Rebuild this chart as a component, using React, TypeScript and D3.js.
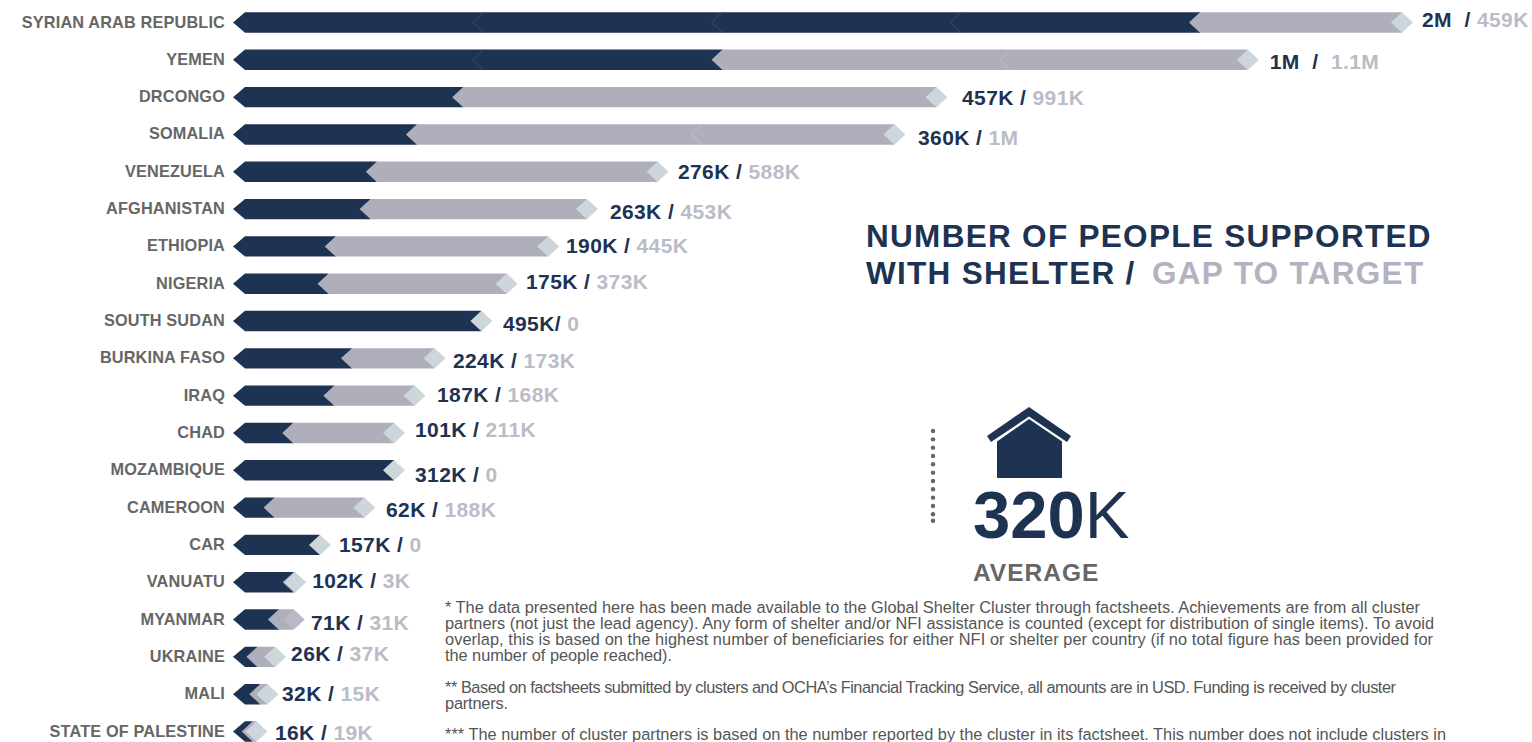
import React from "react";
import * as d3 from "d3";

const countries = ["SYRIAN ARAB REPUBLIC","YEMEN","DRCONGO","SOMALIA","VENEZUELA","AFGHANISTAN","ETHIOPIA","NIGERIA","SOUTH SUDAN","BURKINA FASO","IRAQ","CHAD","MOZAMBIQUE","CAMEROON","CAR","VANUATU","MYANMAR","UKRAINE","MALI","STATE OF PALESTINE"];
const supported = [2000,1000,457,360,276,263,190,175,495,224,187,101,312,62,157,102,71,26,32,16];
const gapDrawn = [423,1100,991,1000,588,453,445,373,0,173,168,211,0,188,0,3,31,37,15,8];
const supportedLabels = ["2M","1M","457K","360K","276K","263K","190K","175K","495K","224K","187K","101K","312K","62K","157K","102K","71K","26K","32K","16K"];
const gapLabels = ["459K","1.1M","991K","1M","588K","453K","445K","373K","0","173K","168K","211K","0","188K","0","3K","31K","37K","15K","19K"];
const separators = ["  / ","  /  "," / "," / "," / "," / "," / "," / ","/ "," / "," / "," / "," / "," / "," / "," / "," / "," / "," / "," / "];
const segmentMarks: number[][] = [[500,1000,1500],[500,1603],[],[957],[],[],[],[],[],[],[],[],[],[],[],[],[],[],[],[]];

const labelDx = [9,11,14.6,12.6,9.4,12,6.8,8.3,10.6,7.4,11.5,10,10,10.6,8,6,6.3,5,3.6,7.5];
const labelDy = [-2.5,2.5,0.5,3.5,0.5,2.5,-0.5,-1.5,2.5,2.5,-0.5,-2.5,4.5,2.5,0,-1.5,3.5,-2.5,0,1];

const footnotes: [string, number, number][] = [
  ["* The data presented here has been made available to the Global Shelter Cluster through factsheets. Achievements are from all cluster", 612.5, 975],
  ["partners (not just the lead agency). Any form of shelter and/or NFI assistance is counted (except for distribution of single items). To avoid", 628.5, 989],
  ["overlap, this is based on the highest number of beneficiaries for either NFI or shelter per country (if no total figure has been provided for", 645, 988],
  ["the number of people reached).", 661, 227],
  ["** Based on factsheets submitted by clusters and OCHA’s Financial Tracking Service, all amounts are in USD. Funding is received by cluster", 693, 951],
  ["partners.", 709, 63],
  ["*** The number of cluster partners is based on the number reported by the cluster in its factsheet. This number does not include clusters in", 740, 1001],
];

const NAVY = "#1e3252";
const GREY = "#afaebb";
const PALE = "#cdd6da";
const GAPTXT = "#bcbbc8";
const TXT = "#666666";
const FONT = "'Liberation Sans', Arial, sans-serif";

const x = d3.scaleLinear().domain([0, 2000]).range([245, 1200]);
const y = d3.scalePoint<string>().domain(countries).range([22.5, 731.5]);
const H = 10.2, N = 11;
const dots = [...d3.range(0, 11).map((i) => 431 + i * 8.33), 520.7];

export default function App() {
  return (
    <svg width={1532} height={742} style={{ position: "absolute", left: 0, top: 0, background: "#fff" }} fontFamily={FONT}>
      {countries.map((c, i) => {
        const cy = y(c)!;
        const x1 = x(supported[i]);
        const x2 = x(supported[i] + gapDrawn[i]);
        const hasGap = gapDrawn[i] > 0;
        const darkPath = d3.path();
        darkPath.moveTo(x(0) - N - 1, cy);
        darkPath.lineTo(x(0), cy - H);
        darkPath.lineTo(x1, cy - H);
        darkPath.lineTo(x1, cy + H);
        darkPath.lineTo(x(0), cy + H);
        darkPath.closePath();
        const greyPath = d3.path();
        greyPath.moveTo(x1 - N, cy);
        greyPath.lineTo(x1, cy - H);
        greyPath.lineTo(x2, cy - H);
        greyPath.lineTo(x2, cy + H);
        greyPath.lineTo(x1, cy + H);
        greyPath.closePath();
        const diamond = d3.path();
        diamond.moveTo(x2 - N, cy);
        diamond.lineTo(x2, cy - H);
        diamond.lineTo(x2 + N, cy);
        diamond.lineTo(x2, cy + H);
        diamond.closePath();
        const isMyanmar = c === "MYANMAR";
        return (
          <g key={c}>
            <text x={225} y={cy + 5} textAnchor="end" fontSize={16.3} fontWeight={700} letterSpacing={0.15} fill={TXT}>{c}</text>
            <path d={darkPath.toString()} fill={NAVY} />
            {hasGap && <path d={greyPath.toString()} fill={GREY} />}
            {segmentMarks[i].map((m) => (
              <path key={m} d={`M${x(m)},${cy - H}L${x(m) - N},${cy}L${x(m)},${cy + H}`} fill="none"
                stroke={m < supported[i] ? "#43536f" : "#c4c4ce"} strokeWidth={0.8} />
            ))}
            <path d={diamond.toString()} fill={isMyanmar ? "#b9b8c5" : PALE} />
            <text x={x2 + N + labelDx[i]} y={cy + 7 + labelDy[i]} fontSize={21} fontWeight={700} letterSpacing={0.4} style={{ whiteSpace: "pre" }}>
              <tspan fill={NAVY}>{supportedLabels[i] + separators[i]}</tspan>
              <tspan fill={GAPTXT}>{gapLabels[i]}</tspan>
            </text>
          </g>
        );
      })}

      <text x={866} y={247} fontSize={31.5} fontWeight={700} fill={NAVY} letterSpacing={1.3}>NUMBER OF PEOPLE SUPPORTED</text>
      <text x={866} y={284} fontSize={31.5} fontWeight={700} fill={NAVY} letterSpacing={1.3}>WITH SHELTER /</text>
      <text x={1152} y={284} fontSize={31.5} fontWeight={700} fill="#b3b2c0" letterSpacing={1.3}>GAP TO TARGET</text>

      {dots.map((d) => <circle key={d} cx={933} cy={d} r={2.2} fill="#666" />)}
      <polygon points="1029,407 1071,436 1067,442 1029,416.5 991,442 987,436" fill={NAVY} />
      <polygon points="1029,419 1062,441.5 1062,478 997,478 997,441.5" fill={NAVY} />
      <text x={973} y={538} fontSize={67} fill={NAVY}>
        <tspan fontWeight={700}>320</tspan><tspan>K</tspan>
      </text>
      <text x={973} y={581} fontSize={24.5} fontWeight={700} fill={TXT} letterSpacing={1}>AVERAGE</text>

      {footnotes.map(([t, by, w]) => (
        <text key={t} x={445} y={by} fontSize={16.35} fill="#555" textLength={w} lengthAdjust="spacing">{t}</text>
      ))}
    </svg>
  );
}
